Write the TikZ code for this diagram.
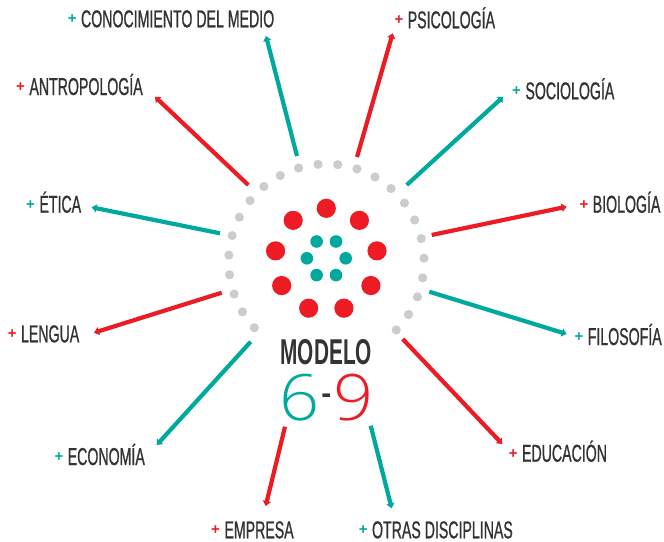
\documentclass[tikz,border=0pt]{standalone}
\usepackage{fontspec}
\setmainfont{Liberation Sans}
\newfontfamily\condfont{Liberation Sans}[FakeStretch=0.58,FakeBold=0.8]
\newfontfamily\condbold{Liberation Sans Bold}[FakeStretch=0.58]
\IfFontExistsTF{Open Sans Light}{\newfontfamily\digitfont{Open Sans Light}[FakeStretch=1.1]}{\newfontfamily\digitfont{Lato Light}}
\usetikzlibrary{arrows.meta}
\definecolor{myred}{HTML}{ED1C24}
\definecolor{myteal}{HTML}{00A99D}
\definecolor{mygrey}{HTML}{CCCCCC}
\definecolor{mydark}{HTML}{333333}
\newcommand\pl[1]{\textcolor{#1}{\raisebox{3.4pt}{\normalfont\bfseries\fontsize{15}{15}\selectfont+}}\hspace{4.5pt}}
\tikzset{
  lbl/.style={anchor=base west, inner sep=0pt, text depth=0pt, text=mydark, font=\condfont\fontsize{24.4}{28}\selectfont},
  arrow teal/.style={draw=myteal, line width=4.2pt, -{Triangle[width=8pt,length=5pt]}},
  arrow red/.style={draw=myred, line width=4.2pt, -{Triangle[width=8pt,length=5pt]}},
}
\begin{document}
\begin{tikzpicture}[x=1pt,y=-1pt]
\useasboundingbox (0,0) rectangle (664,541);
% grey ring of dots
\foreach \k in {0,...,23}{
  \pgfmathsetmacro\a{-44.3+11.6*\k}
  \fill[mygrey] ({326.3+97.7*cos(\a)},{261.7-97.7*sin(\a)}) circle[radius=4.6pt];
}
% red dots
\foreach \k in {0,...,8}{
  \pgfmathsetmacro\a{90+40*\k}
  \fill[myred] ({326.3+51.5*cos(\a)},{259.8-51.5*sin(\a)}) circle[radius=9.6pt];
}
% teal dots
\foreach \k in {0,...,5}{
  \pgfmathsetmacro\a{60*\k}
  \fill[myteal] ({326.3+19.4*cos(\a)},{258.3-19.4*sin(\a)}) circle[radius=6.3pt];
}
% title
\node[anchor=base, inner sep=0pt, text=mydark, font=\condbold\fontsize{35.9}{40}\selectfont] (title) at (326.3,364) {MODELO};
\node[anchor=base, inner sep=0pt, text=myteal, font=\digitfont\fontsize{64}{70}\selectfont] (six) at (299.2,420.7) {6};
\node[anchor=base, inner sep=0pt, text=mydark, font=\bfseries\fontsize{30}{30}\selectfont] (dash) at (326.3,403.2) {-};
\node[anchor=base, inner sep=0pt, text=myred, font=\digitfont\fontsize{64}{70}\selectfont] (nine) at (353.3,420.7) {9};
% labels
\node[lbl] (l1) at (67.6,27.3) {\pl{myteal}CONOCIMIENTO DEL MEDIO};
\node[lbl] (l2) at (394.3,28.3) {\pl{myred}PSICOLOGÍA};
\node[lbl] (l3) at (16.0,95) {\pl{myred}ANTROPOLOGÍA};
\node[lbl] (l4) at (512.0,99.3) {\pl{myteal}SOCIOLOGÍA};
\node[lbl] (l5) at (26.0,212.7) {\pl{myteal}ÉTICA};
\node[lbl] (l6) at (579.3,212.7) {\pl{myred}BIOLOGÍA};
\node[lbl] (l7) at (7.6,342.3) {\pl{myred}LENGUA};
\node[lbl] (l8) at (574.3,345) {\pl{myteal}FILOSOFÍA};
\node[lbl] (l9) at (54.3,465) {\pl{myteal}ECONOMÍA};
\node[lbl] (l10) at (508.6,461.7) {\pl{myred}EDUCACIÓN};
\node[lbl] (l11) at (211.0,538.3) {\pl{myred}EMPRESA};
\node[lbl] (l12) at (358.6,538.3) {\pl{myteal}OTRAS DISCIPLINAS};
% arrow coordinates
\coordinate (s1) at (297,156);    \coordinate (e1) at (266,36);
\coordinate (s2) at (357,157);    \coordinate (e2) at (392.7,33.3);
\coordinate (s3) at (248.3,185);  \coordinate (e3) at (155,96.7);
\coordinate (s4) at (406.7,185);  \coordinate (e4) at (503.3,96.7);
\coordinate (s5) at (220,233.3);  \coordinate (e5) at (91.7,207.3);
\coordinate (s6) at (431.7,235);  \coordinate (e6) at (566.7,206.7);
\coordinate (s7) at (221.7,292.7);\coordinate (e7) at (94,332.7);
\coordinate (s8) at (429.3,291.7);\coordinate (e8) at (566.7,334);
\coordinate (s9) at (250.7,341.7);\coordinate (e9) at (156.7,445);
\coordinate (s10) at (402.7,339); \coordinate (e10) at (502.3,444);
\coordinate (s11) at (285,426.7); \coordinate (e11) at (265.7,506);
\coordinate (s12) at (370.7,425.7);\coordinate (e12) at (391.7,508.3);
\draw[arrow teal] (s1) -- (e1);
\draw[arrow red] (s2) -- (e2);
\draw[arrow red] (s3) -- (e3);
\draw[arrow teal] (s4) -- (e4);
\draw[arrow teal] (s5) -- (e5);
\draw[arrow red] (s6) -- (e6);
\draw[arrow red] (s7) -- (e7);
\draw[arrow teal] (s8) -- (e8);
\draw[arrow teal] (s9) -- (e9);
\draw[arrow red] (s10) -- (e10);
\draw[arrow red] (s11) -- (e11);
\draw[arrow teal] (s12) -- (e12);
\end{tikzpicture}
\end{document}
